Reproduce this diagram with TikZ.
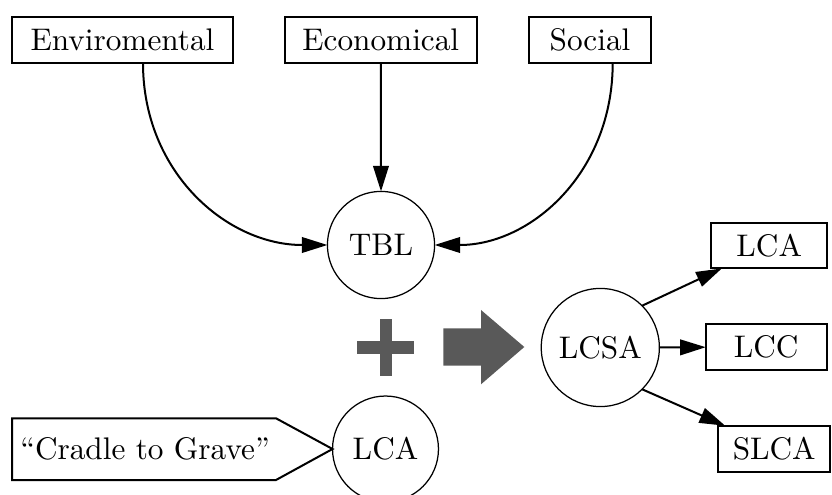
\documentclass[tikz,border=0pt]{standalone}
\usetikzlibrary{arrows.meta,calc}
\definecolor{shapegray}{RGB}{89,89,89}
\begin{document}
\begin{tikzpicture}[x=0.32pt,y=-0.32pt,
  box/.style={draw,line width=0.64pt,rectangle,inner sep=0pt,outer sep=0pt,minimum height=14.7pt},
  hub/.style={draw,line width=0.4pt,circle,inner sep=0pt,outer sep=0pt},
  link/.style={line width=0.64pt,-{Triangle[length=8.2pt,width=5pt]}}]
\useasboundingbox (0,0) rectangle (832,495);

% pillar boxes
\node[box,minimum width=70.7pt] (env)  at (122.5,40) {Enviromental};
\node[box,minimum width=61.3pt] (econ) at (380.8,40) {Economical};
\node[box,minimum width=38.9pt] (soc)  at (590,40)   {Social};

% hubs
\node[hub,minimum size=34.3pt] (tbl)  at (381,245)     {TBL};
\node[hub,minimum size=33.9pt] (lca)  at (385.5,449)   {LCA};
\node[hub,minimum size=37.8pt] (lcsa) at (600.3,347.5) {LCSA};

% components of LCSA
\node[box,minimum width=37.2pt] (lcaout) at (769.2,245.5) {LCA};
\node[box,minimum width=38.7pt] (lcc)    at (766.2,347.2) {LCC};
\node[box,minimum width=35.7pt] (slca)   at (774.2,448.7) {SLCA};

% pointer label for the LCA scope
\draw[line width=0.64pt,line join=miter]
  (12,418.3) -- (276,418.3) -- (lca.west) -- (276,480) -- (12,480) -- cycle;
\node (cradle) at (145,449.3) {“Cradle to Grave”};

% plus sign
\fill[shapegray] (356.7,341.5) rectangle (414.3,353.5);
\fill[shapegray] (379.5,319) rectangle (391.5,376);

% block arrow
\fill[shapegray] (443.3,328.3) -- (481,328.3) -- (481,310) -- (524.3,347)
  -- (481,384.3) -- (481,365.7) -- (443.3,365.7) -- cycle;

% connectors
\draw[link] ($(env.south)+(20.5,0)$) .. controls +(0,110) and +(-100,0) .. (tbl.west);
\draw[link] (econ.south) -- (tbl.north);
\draw[link] ($(soc.south)+(22.7,0)$) .. controls +(0,110) and +(96,0) .. (tbl.east);
\draw[link] (lcsa.45) -- ($(lcaout.south west)+(10.7,0)$);
\draw[link] (lcsa.east) -- (lcc.west);
\draw[link] (lcsa.-45) -- ($(slca.north west)+(6.7,0)$);
\end{tikzpicture}
\end{document}
